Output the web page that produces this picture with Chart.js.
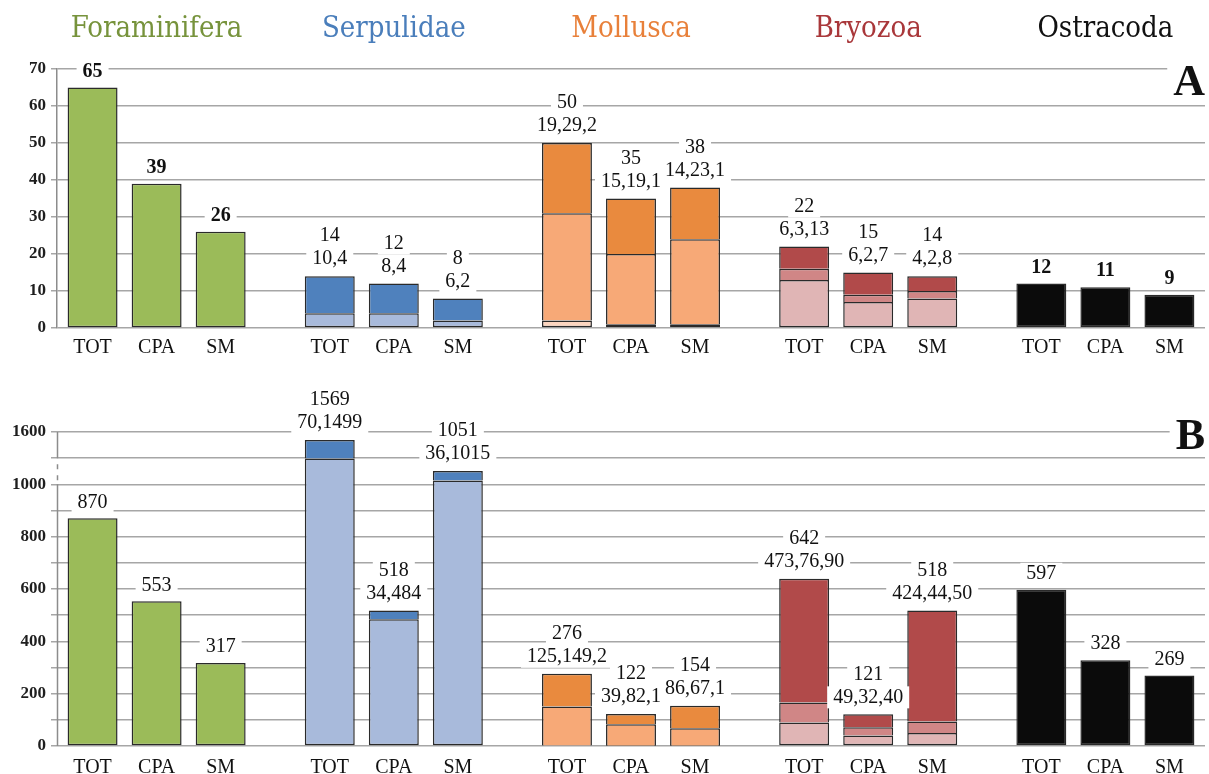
<!DOCTYPE html>
<html>
<head>
<meta charset="utf-8">
<title>Foraminifera, Serpulidae, Mollusca, Bryozoa, Ostracoda</title>
<script src="https://cdn.jsdelivr.net/npm/chart.js@4.4.0/dist/chart.umd.min.js"></script>
<style>
  html, body { margin: 0; padding: 0; background: #fff; }
  canvas { display: block; }
</style>
</head>
<body>
<canvas id="panelA" width="1209" height="372"></canvas>
<canvas id="panelB" width="1209" height="402"></canvas>
<script>
const groups = ['Foraminifera', 'Serpulidae', 'Mollusca', 'Bryozoa', 'Ostracoda'];
const subsets = ['TOT', 'CPA', 'SM'];

// segment values as printed over each bar (TOT, CPA, SM), top segment first
const foraminiferaA = [[65], [39], [26]];
const serpulidaeA = [[10, 4], [8, 4], [6, 2]];
const molluscaA = [[19, 29, 2], [15, 19, 1], [14, 23, 1]];
const bryozoaA = [[6, 3, 13], [6, 2, 7], [4, 2, 8]];
const ostracodaA = [[12], [11], [9]];

const foraminiferaB = [[870], [553], [317]];
const serpulidaeB = [[70, 1499], [34, 484], [36, 1015]];
const molluscaB = [[125, 149, 2], [39, 82, 1], [86, 67, 1]];
const bryozoaB = [[473, 76, 90], [49, 32, 40], [424, 44, 50]];
const ostracodaB = [[597], [328], [269]];

// totals as printed (Bryozoa TOT in B reads 642)
const totalsA = [[65, 39, 26], [14, 12, 8], [50, 35, 38], [22, 15, 14], [12, 11, 9]];
const totalsB = [[870, 553, 317], [1569, 518, 1051], [276, 122, 154], [642, 121, 518], [597, 328, 269]];

const ticksA = [0, 10, 20, 30, 40, 50, 60, 70];
const gridB = [0, 100, 200, 300, 400, 500, 600, 700, 800, 900, 1000, 1500, 1600];
const ticksB = [0, 200, 400, 600, 800, 1000, 1600];

const titleColors = ['#77933c', '#4a7ebb', '#e8803a', '#a9373a', '#111111'];
// bottom -> top
const barColors = [
  ['#9bbb59'],
  ['#a8badb', '#4f81bd'],
  ['#fcd5bf', '#f7a977', '#e98a3e'],
  ['#e0b5b5', '#d08686', '#b14a4a'],
  ['#0b0b0b']
];

const gridColor = '#a6a6a6';
const serif = '"Liberation Serif", "Times New Roman", serif';

// axis B is broken: values above 1300 are drawn 400 lower
const breakGap = 400;
function squeeze(v) { return v > 1300 ? v - breakGap : v; }

class BrokenLinear extends Chart.LinearScale {
  determineDataLimits() {
    super.determineDataLimits();
    this.max = squeeze(this.max);
  }
  getPixelForValue(v) {
    return super.getPixelForValue(squeeze(v));
  }
}
BrokenLinear.id = 'brokenLinear';
Chart.register(BrokenLinear);

function buildDatasets(values) {
  const sets = [];
  subsets.forEach((sub, s) => {
    for (let level = 0; level < 3; level++) {
      sets.push({
        stack: sub,
        data: values.map((grp, g) => {
          const segs = grp[s];
          return { x: g, y: level < segs.length ? segs[segs.length - 1 - level] : null };
        }),
        backgroundColor: ctx => barColors[ctx.dataIndex][level] || '#fff',
        borderColor: '#2a2a2a',
        borderWidth: { top: 1.5, left: 1.5, right: 1.5, bottom: level === 0 ? 1.5 : 0 },
        borderSkipped: false,
        categoryPercentage: 0.81,
        barPercentage: 0.78
      });
    }
  });
  return sets;
}

function boxedText(ctx, txt, x, y, font) {
  ctx.font = font;
  const w = ctx.measureText(txt).width;
  ctx.fillStyle = '#fff';
  ctx.fillRect(x - w / 2 - 6, y - 11, w + 12, 22);
  ctx.fillStyle = '#111';
  ctx.fillText(txt, x, y);
}

function decor(panel) {
  return {
    id: 'decor',
    beforeDatasetsDraw(chart) {
      if (!panel.broken) return;
      const { ctx, scales: { y } } = chart;
      const x0 = Math.round(chart.chartArea.left) + 0.5;
      ctx.save();
      ctx.strokeStyle = '#8c8c8c';
      ctx.lineWidth = 1.5;
      ctx.beginPath();
      ctx.moveTo(x0, y.getPixelForValue(0));
      ctx.lineTo(x0, y.getPixelForValue(1000));
      ctx.moveTo(x0, y.getPixelForValue(1500));
      ctx.lineTo(x0, y.getPixelForValue(1600));
      ctx.stroke();
      ctx.setLineDash([5, 6]);
      ctx.beginPath();
      ctx.moveTo(x0, y.getPixelForValue(1000) - 4);
      ctx.lineTo(x0, y.getPixelForValue(1500));
      ctx.stroke();
      ctx.restore();
    },
    afterDatasetsDraw(chart) {
      const { ctx, scales: { x } } = chart;
      ctx.save();
      ctx.textAlign = 'center';
      ctx.textBaseline = 'middle';
      panel.values.forEach((grp, g) => {
        grp.forEach((segs, s) => {
          const base = chart.getDatasetMeta(s * 3).data[g];
          const top = chart.getDatasetMeta(s * 3 + segs.length - 1).data[g].y;
          const total = String(panel.totals[g][s]);
          if (segs.length > 1) {
            boxedText(ctx, segs.join(','), base.x, top - 17, '20px ' + serif);
            boxedText(ctx, total, base.x, top - 40, '20px ' + serif);
          } else {
            boxedText(ctx, total, base.x, top - 16, (panel.boldSingle ? 'bold ' : '') + '20px ' + serif);
          }
          ctx.fillStyle = '#111';
          ctx.font = '20px ' + serif;
          ctx.fillText(subsets[s], base.x, panel.labelY);
        });
      });

      if (panel.titles) {
        ctx.textBaseline = 'alphabetic';
        ctx.font = '29px "DejaVu Serif Condensed", "DejaVu Serif", serif';
        if ('fontStretch' in ctx) ctx.fontStretch = 'condensed';
        groups.forEach((name, g) => {
          ctx.fillStyle = titleColors[g];
          ctx.fillText(name, x.getPixelForValue(g), 37);
        });
        if ('fontStretch' in ctx) ctx.fontStretch = 'normal';
      }

      ctx.textAlign = 'right';
      ctx.textBaseline = 'alphabetic';
      ctx.font = 'bold 44px ' + serif;
      const w = ctx.measureText(panel.letter).width;
      ctx.fillStyle = '#fff';
      ctx.fillRect(1205 - w - 6, panel.letterY - 32, w + 10, 34);
      ctx.fillStyle = '#111';
      ctx.fillText(panel.letter, 1205, panel.letterY);
      ctx.restore();
    }
  };
}

function makeChart(id, panel, yScale, padding) {
  return new Chart(document.getElementById(id), {
    type: 'bar',
    data: { datasets: buildDatasets(panel.values) },
    options: {
      responsive: false,
      animation: false,
      events: [],
      layout: { padding: padding },
      plugins: { legend: { display: false }, tooltip: { enabled: false } },
      scales: {
        x: {
          type: 'linear',
          display: false,
          offset: false,
          bounds: 'data',
          min: -0.42,
          max: 4.42,
          afterBuildTicks: s => { s.ticks = groups.map((n, i) => ({ value: i })); }
        },
        y: yScale
      }
    },
    plugins: [decor(panel)]
  });
}

const yCommon = {
  stacked: true,
  afterFit: s => { s.width = 57; },
  grid: { color: gridColor, lineWidth: 1.5, tickLength: 6, tickColor: gridColor },
  ticks: {
    autoSkip: false,
    padding: 5,
    color: '#1e1e1e',
    font: { family: serif, size: 17, weight: 'bold' }
  }
};

const graficoA = makeChart('panelA', {
  values: [foraminiferaA, serpulidaeA, molluscaA, bryozoaA, ostracodaA],
  totals: totalsA,
  boldSingle: true,
  labelY: 348,
  titles: true,
  letter: 'A',
  letterY: 95
}, {
  ...yCommon,
  min: 0,
  max: 70,
  border: { color: '#8c8c8c', width: 1.5 },
  afterBuildTicks: s => { s.ticks = ticksA.map(v => ({ value: v })); }
}, { top: 69, bottom: 44, left: 0, right: 4 });

const graficoB = makeChart('panelB', {
  values: [foraminiferaB, serpulidaeB, molluscaB, bryozoaB, ostracodaB],
  totals: totalsB,
  boldSingle: false,
  labelY: 396,
  titles: false,
  letter: 'B',
  letterY: 77,
  broken: true
}, {
  ...yCommon,
  type: 'brokenLinear',
  min: 0,
  max: 1600,
  bounds: 'data',
  border: { display: false },
  afterBuildTicks: s => { s.ticks = gridB.map(v => ({ value: v })); },
  ticks: { ...yCommon.ticks, callback: v => ticksB.includes(v) ? String(v) : '' }
}, { top: 60, bottom: 28, left: 0, right: 4 });
</script>
</body>
</html>
